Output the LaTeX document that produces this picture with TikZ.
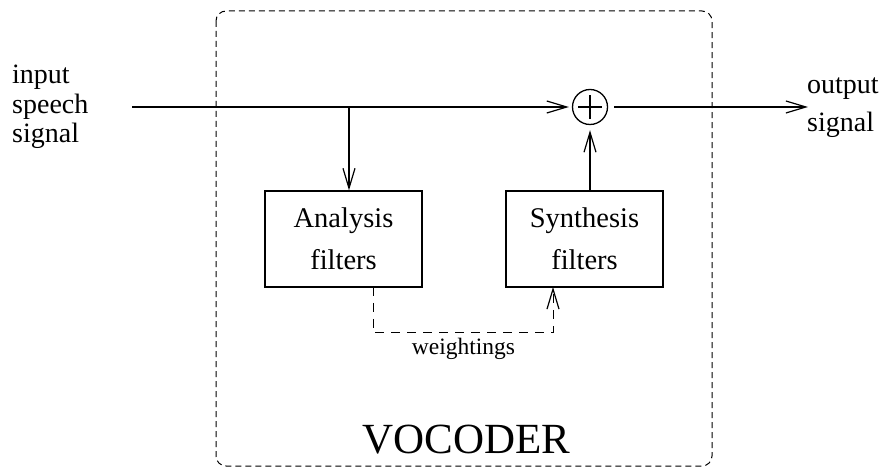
\documentclass[tikz,border=0pt]{standalone}
\usepackage{fontspec}
\setmainfont{Liberation Serif}
\usetikzlibrary{arrows.meta}
\begin{document}
\begin{tikzpicture}[x=1bp,y=-1bp,
  wire/.style={line width=1.4bp},
  tip/.style={-{Straight Barb[length=20bp,width=12bp,line width=1.2bp]}},
  filterbox/.style={draw,line width=1.2bp,minimum width=157bp,minimum height=96bp,
    inner sep=0pt,align=center,font=\fontsize{28.5bp}{42bp}\selectfont},
  sumnode/.style={draw,circle,line width=1.3bp,minimum size=35bp,inner sep=0pt},
  label/.style={inner sep=0pt,align=left}]
\useasboundingbox (0,0) rectangle (885,468);

% vocoder enclosure
\draw[line width=1bp,dash pattern=on 6bp off 4bp,rounded corners=10bp]
  (216,11) rectangle (712,466);

% terminals and blocks
\node[label,anchor=west,font=\fontsize{28bp}{29.5bp}\selectfont] (in) at (12,107)
  {input\\speech\\signal};
\node[label,anchor=west,font=\fontsize{28bp}{38bp}\selectfont] (out) at (807,107.5)
  {output\\signal};
\node[filterbox] (ana) at (343.5,239) {Analysis\\filters};
\node[filterbox] (syn) at (584.5,239) {Synthesis\\filters};
\node[sumnode] (sum) at (590,107) {};
\draw[line width=1.2bp] ([xshift=-12bp]sum.center) -- ([xshift=12bp]sum.center)
  ([yshift=-12bp]sum.center) -- ([yshift=12bp]sum.center);

\coordinate (start) at (132,107);
\coordinate (branch) at (349,107);
\coordinate (end) at (808,107);

% signal path
\draw[wire,tip,shorten >=3bp] (start) -- (sum.west);
\draw[wire,tip] (branch) -- (branch |- ana.north);
\draw[wire,tip,shorten >=5bp] (syn.north -| sum) -- (sum.south);
\draw[wire,tip,shorten <=6bp] (sum.east) -- (end);

% weightings link
\coordinate (wa) at (373,287);
\coordinate (wb) at (553,287);
\draw[line width=1bp,dash pattern=on 9bp off 7bp,tip]
  (wa) -- (373,333) -- (553,333) -- (wb);
\node[inner sep=0pt,anchor=base,font=\fontsize{23.5bp}{28bp}\selectfont] (w) at (463.5,355) {weightings};

\node[inner sep=0pt,anchor=base,font=\fontsize{43bp}{50bp}\selectfont] (voc) at (466.5,453) {VOCODER};
\end{tikzpicture}
\end{document}
